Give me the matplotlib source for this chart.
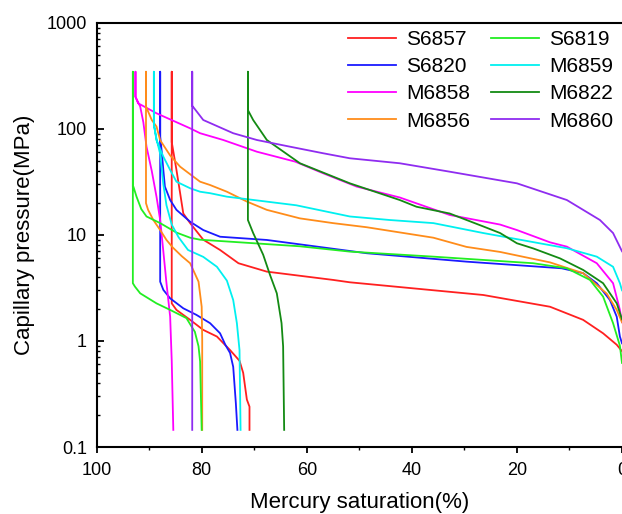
import matplotlib
matplotlib.use("Agg")
import matplotlib.pyplot as plt
from matplotlib.ticker import FixedLocator, NullFormatter, LogLocator

plt.rcParams['font.family'] = ['Liberation Sans', 'DejaVu Sans']

# sample names / colours (legend order, column by column)
names = ['S6857', 'S6820', 'M6858', 'M6856', 'S6819', 'M6859', 'M6822', 'M6860']
colors = ['#ff2020', '#1a1aff', '#ff00ff', '#ff8c1a', '#22ee22', '#00f0f0', '#138a13', '#8f2cf0']

# mercury saturation (%) and capillary pressure (MPa): intrusion then extrusion
s6857_sat = [0, 1.0, 3.6, 7.4, 13.7, 26.4, 40, 51.8, 55, 67.6, 73, 76.5, 79.7, 82.2, 83.5, 84.1, 84.8, 85.7, 85.7,
             85.7, 84.8, 82.2, 79.7, 77.1, 74.6, 72.8, 72.1, 71.4, 70.9, 70.9]
s6857_pc = [0.8, 0.92, 1.18, 1.58, 2.1, 2.71, 3.14, 3.57, 3.76, 4.5, 5.4, 7.2, 9.0, 12.9, 15.9, 24.7, 40.9, 75, 345,
            2.26, 1.96, 1.58, 1.27, 1.10, 0.82, 0.65, 0.50, 0.28, 0.24, 0.145]

s6820_sat = [0, 0.4, 1.0, 2.3, 4.8, 7.4, 11.5, 29.6, 48.6, 67.6, 76.5, 79.7, 82.2, 84.8, 86.0, 87.0, 87.3, 87.6, 87.9, 87.9,
             87.9, 87.3, 86.0, 83.5, 81.0, 78.4, 76.5, 75.5, 74.6, 74.0, 73.5, 73.2]
s6820_pc = [0.95, 1.1, 1.69, 2.43, 3.5, 4.35, 4.84, 5.59, 6.71, 8.95, 9.6, 11.1, 13.3, 17.2, 21.3, 28.5, 40.9, 60.8, 84, 345,
            3.62, 3.03, 2.52, 2.03, 1.76, 1.47, 1.18, 0.92, 0.77, 0.57, 0.26, 0.145]

m6858_sat = [0, 0.4, 1.7, 4.8, 10.5, 13.7, 20.0, 23.2, 32.8, 42.3, 50.5, 56.9, 62.2, 69.5, 75.9, 80.3, 82.2, 88.6, 92.1, 92.6, 92.6,
             92.6, 91.7, 91.1, 90.5, 89.5, 88.6, 87.9, 87.3, 86.7, 86.0, 85.7, 85.4]
m6858_pc = [1.5, 1.96, 3.5, 5.4, 7.74, 8.5, 11.1, 12.5, 15.4, 22.5, 28.5, 38.1, 49, 60.8, 78.4, 90.8, 101, 140, 174, 200, 345,
            200, 162, 115, 67.8, 40, 22.9, 13.8, 7.0, 3.5, 1.69, 0.65, 0.145]

m6856_sat = [0, 1.0, 2.9, 7.4, 13.7, 23.2, 29.6, 35.9, 48.6, 55, 61.3, 67.6, 71.4, 75.2, 78.4, 80.3, 81.6, 84.1, 86.0, 87.9, 88.6, 89.5, 90.6, 90.6,
             90.6, 90.2, 89.2, 87.9, 86.7, 85.5, 83.8, 82.2, 80.6, 80.0, 79.9, 79.9]
m6856_pc = [1.5, 1.96, 2.79, 4.35, 5.5, 6.9, 7.7, 9.4, 11.8, 12.9, 14.3, 17.2, 20.6, 25.5, 29.5, 31.7, 35.4, 43.9, 56, 78, 105, 121, 162, 345,
            19.9, 17.2, 13.8, 11.1, 8.95, 7.6, 6.3, 5.4, 3.62, 2.1, 1.02, 0.145]

s6819_sat = [0, 0.4, 1.7, 3.6, 6.1, 10.5, 16.9, 35.9, 51.8, 61.3, 80.3, 82.2, 84.8, 87.9, 90.5, 91.5, 92.4, 93.0, 93.1, 93.1,
             93.1, 92.7, 91.7, 88.6, 86.0, 82.9, 81.9, 81.3, 80.6, 80.3, 80.0]
s6819_pc = [0.62, 0.9, 1.47, 2.62, 3.76, 4.84, 5.4, 6.23, 6.95, 7.8, 9.0, 9.4, 10.5, 12.9, 14.9, 17.5, 22.9, 28.5, 28.5, 345,
            3.5, 3.25, 2.81, 2.26, 1.96, 1.64, 1.36, 1.22, 0.89, 0.64, 0.145]

m6859_sat = [0, 0.4, 1.7, 4.8, 10.5, 26.4, 35.9, 44.2, 51.8, 62.0, 75.2, 78.4, 80.3, 82.2, 84.8, 86.0, 87.3, 88.6, 89.1, 89.1,
             89.1, 88.6, 87.9, 87.3, 86.7, 85.7, 84.4, 82.6, 79.7, 77.1, 75.2, 74.0, 73.3, 72.8, 72.7, 72.6]
m6859_pc = [3.0, 3.5, 5.0, 6.23, 7.48, 10.4, 12.9, 13.8, 14.9, 19.0, 22.9, 24.7, 25.5, 27.5, 31.7, 40.9, 54.6, 78, 110, 345,
            110, 80, 58, 30, 19, 12.5, 9.5, 7.2, 6.2, 5.0, 3.7, 2.43, 1.47, 0.82, 0.35, 0.145]

m6822_sat = [0, 1.0, 3.6, 7.4, 11.8, 16.9, 20.0, 23.2, 26.4, 32.8, 39.1, 42.3, 51.8, 61.3, 67.6, 70.2, 71.2, 71.2,
             71.2, 70.2, 68.3, 67.0, 65.7, 64.8, 64.5, 64.3]
m6822_pc = [1.6, 2.26, 3.5, 4.67, 6.0, 7.45, 8.33, 10.4, 12.0, 15.9, 18.4, 21.3, 30.6, 47.3, 78.4, 121, 150, 345,
            13.8, 10.4, 6.5, 4.2, 2.81, 1.47, 0.89, 0.145]

m6860_sat = [0, 1.7, 4.2, 10.5, 20.0, 32.8, 42.3, 51.8, 56.9, 63.2, 69.5, 74.0, 79.7, 81.8, 81.8, 81.8]
m6860_pc = [7.0, 10.4, 13.8, 21.3, 30.6, 39.4, 47.3, 52.7, 58.8, 67.8, 78.4, 90.8, 121, 165, 345, 0.145]

sats = [s6857_sat, s6820_sat, m6858_sat, m6856_sat, s6819_sat, m6859_sat, m6822_sat, m6860_sat]
pcs = [s6857_pc, s6820_pc, m6858_pc, m6856_pc, s6819_pc, m6859_pc, m6822_pc, m6860_pc]

fig = plt.figure(figsize=(6.22, 5.14), dpi=100)
ax = fig.add_axes([96.6 / 622, 67 / 514, 525.4 / 622, 424.3 / 514])

for name, col, s, p in zip(names, colors, sats, pcs):
    ax.plot(s, p, color=col, lw=1.3, label=name)

ax.set_yscale('log')
ax.set_ylim(0.1, 1000)
ax.set_xlim(100, 0)

ax.xaxis.set_major_locator(FixedLocator([100, 80, 60, 40, 20, 0]))
ax.xaxis.set_minor_locator(FixedLocator([90, 70, 50, 30, 10]))
ax.yaxis.set_major_locator(FixedLocator([0.1, 1, 10, 100, 1000]))
ax.yaxis.set_minor_locator(LogLocator(base=10, subs=range(2, 10)))
ax.yaxis.set_minor_formatter(NullFormatter())
ax.set_yticklabels(['0.1', '1', '10', '100', '1000'])
ax.set_xticklabels(['100', '80', '60', '40', '20', '0'])

ax.tick_params(axis='y', which='major', direction='in', length=5, width=1.3, labelsize=13, pad=7)
ax.tick_params(axis='y', which='minor', direction='in', length=2.5, width=1.0)
ax.tick_params(axis='x', which='major', direction='out', length=4, width=1.3, labelsize=13, pad=7)
ax.tick_params(axis='x', which='minor', direction='out', length=2.5, width=1.0)

for sp in ['left', 'bottom', 'top']:
    ax.spines[sp].set_linewidth(1.5)
ax.spines['right'].set_visible(False)

ax.set_xlabel('Mercury saturation(%)', fontsize=16, labelpad=9)
ax.set_ylabel('Capillary pressure(MPa)', fontsize=16, labelpad=8)

ax.legend(ncol=2, frameon=False, fontsize=15, loc='upper right', bbox_to_anchor=(1.0, 1.002),
          handlelength=2.3, labelspacing=0.39, columnspacing=1.0, handletextpad=0.5, borderaxespad=0.0)

fig.savefig('out.png', dpi=100)
